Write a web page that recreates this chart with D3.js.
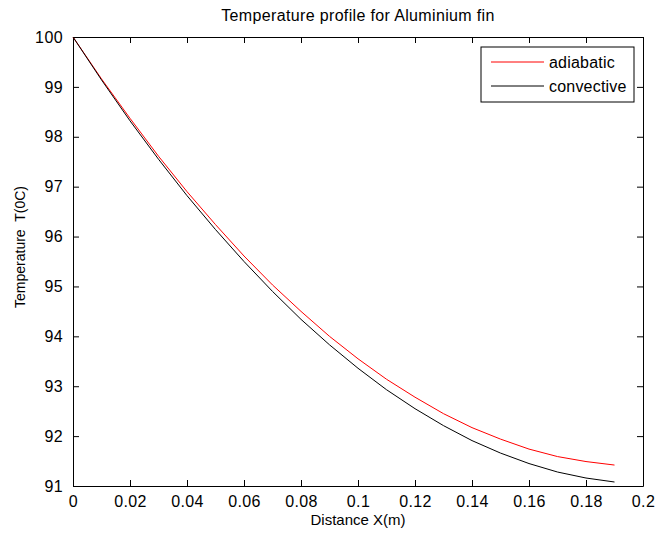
<!DOCTYPE html>
<html>
<head>
<meta charset="utf-8">
<script src="https://cdn.jsdelivr.net/npm/d3@7"></script>
<style>
  body { margin: 0; background: #fff; }
  text { font-family: "Liberation Sans", Arial, sans-serif; fill: #000; }
</style>
</head>
<body>
<script>
// distance along the fin (m)
const distance = [0, 0.01, 0.02, 0.03, 0.04, 0.05, 0.06, 0.07, 0.08, 0.09,
  0.10, 0.11, 0.12, 0.13, 0.14, 0.15, 0.16, 0.17, 0.18, 0.19]
// temperatures
const adiabatic = [100, 99.16, 98.37, 97.61, 96.90, 96.24, 95.61, 95.03, 94.50, 94.00,
  93.55, 93.14, 92.78, 92.45, 92.17, 91.94, 91.74, 91.59, 91.49, 91.42]
const convective = [100, 99.14, 98.32, 97.55, 96.82, 96.14, 95.50, 94.90, 94.34, 93.83,
  93.36, 92.93, 92.55, 92.21, 91.91, 91.66, 91.45, 91.28, 91.16, 91.08]
const xTicks = [0, 0.02, 0.04, 0.06, 0.08, 0.1, 0.12, 0.14, 0.16, 0.18, 0.2]
const yTicks = [91, 92, 93, 94, 95, 96, 97, 98, 99, 100]
const seriesNames = ['adiabatic', 'convective']
const seriesColors = ['#ff0000', '#000000']

const width = 656, height = 535
const margin = {top: 37, right: 13, bottom: 49, left: 73}
const w = width - margin.left - margin.right
const h = height - margin.top - margin.bottom

const svg = d3.select('body').append('svg')
  .attr('width', width)
  .attr('height', height)

const chart = svg.append('g')
  .attr('transform', `translate(${margin.left},${margin.top})`)

const x = d3.scaleLinear().domain([0, 0.2]).range([0, w])
const y = d3.scaleLinear().domain([91, 100]).range([h, 0])

const fmt = d => String(+d.toFixed(2))
const tk = 6

// axes, MATLAB style: ticks inside on all four sides
const axes = [
  [d3.axisBottom(x).tickValues(xTicks).tickFormat(fmt), `translate(0,${h})`],
  [d3.axisTop(x).tickValues(xTicks).tickFormat(''), 'translate(0,0)'],
  [d3.axisLeft(y).tickValues(yTicks).tickFormat(fmt), 'translate(0,0)'],
  [d3.axisRight(y).tickValues(yTicks).tickFormat(''), `translate(${w},0)`]
]
axes.forEach(([ax, tr]) => {
  const g = chart.append('g')
    .attr('transform', tr)
    .call(ax.tickSizeInner(-tk).tickSizeOuter(0).tickPadding(tk + 4))
  g.select('.domain').attr('stroke', '#000')
  g.selectAll('.tick line').attr('stroke', '#000')
  g.selectAll('.tick text')
    .attr('font-size', 16)
    .attr('letter-spacing', 0.4)
    .attr('font-family', '"Liberation Sans", Arial, sans-serif')
})

const line = d3.line()
  .x((d, i) => x(distance[i]))
  .y(d => y(d))

;[adiabatic, convective].forEach((s, i) => {
  chart.append('path')
    .datum(s)
    .attr('fill', 'none')
    .attr('stroke', seriesColors[i])
    .attr('stroke-width', 1)
    .attr('d', line)
})

// legend
const legend = chart.append('g')
  .attr('transform', `translate(${408},${10})`)
legend.append('rect')
  .attr('width', 153).attr('height', 55)
  .attr('fill', '#fff').attr('stroke', '#000')
seriesNames.forEach((n, i) => {
  const ly = 15 + i * 24
  legend.append('line')
    .attr('x1', 10).attr('x2', 63)
    .attr('y1', ly).attr('y2', ly)
    .attr('stroke', seriesColors[i])
  legend.append('text')
    .attr('x', 68).attr('y', ly)
    .attr('dy', '0.35em')
    .attr('font-size', 16)
    .attr('letter-spacing', 0.2)
    .text(n)
})

// title and axis labels
svg.append('text')
  .attr('x', margin.left + w / 2).attr('y', 21)
  .attr('text-anchor', 'middle')
  .attr('font-size', 16)
  .attr('letter-spacing', 0.35)
  .text('Temperature profile for Aluminium fin')

svg.append('text')
  .attr('x', margin.left + w / 2).attr('y', 525)
  .attr('text-anchor', 'middle')
  .attr('font-size', 15)
  .text('Distance X(m)')

svg.append('text')
  .attr('transform', `translate(25,247) rotate(-90)`)
  .attr('text-anchor', 'middle')
  .attr('font-size', 14)
  .attr('xml:space', 'preserve')
  .text('Temperature  T(0C)')
</script>
</body>
</html>
